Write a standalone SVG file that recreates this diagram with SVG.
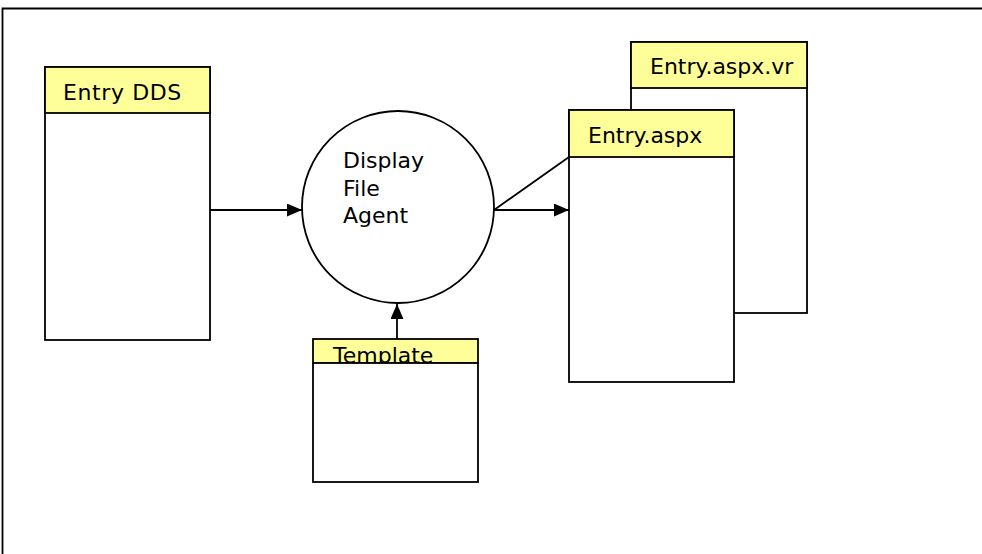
<svg xmlns="http://www.w3.org/2000/svg" width="982" height="554" viewBox="0 0 982 554">
  <style>
    .box{fill:#fff;stroke:#000;stroke-width:1.8}
    .hdr{fill:#ffff99;stroke:#000;stroke-width:1.8}
    .lbl{font-family:"DejaVu Sans",Verdana,sans-serif;font-size:22px;fill:#000}
    .ln{fill:none;stroke:#000;stroke-width:1.8}
  </style>
  <defs>
    <marker id="arr" markerUnits="userSpaceOnUse" markerWidth="15" markerHeight="13" refX="15" refY="6.5" orient="auto">
      <path d="M0,0 L15,6.5 L0,13 Z" fill="#000"/>
    </marker>
  </defs>
  <rect width="982" height="554" fill="#fff"/>
  <path class="ln" d="M2.5,554 V8.5 H982"/>

  <g id="entry-dds">
    <rect class="box" x="45" y="67" width="165" height="273"/>
    <rect class="hdr" x="45" y="67" width="165" height="46"/>
    <text class="lbl" x="63" y="100" letter-spacing="0.6">Entry DDS</text>
  </g>

  <g id="display-file-agent">
    <circle class="box" cx="398" cy="207" r="96"/>
    <text class="lbl" x="343" y="168">Display</text>
    <text class="lbl" x="343" y="196">File</text>
    <text class="lbl" x="343" y="223">Agent</text>
  </g>

  <g id="template">
    <rect class="hdr" x="313" y="339" width="165" height="24"/>
    <text class="lbl" x="333" y="363">Template</text>
    <rect class="box" x="313" y="363" width="165" height="119"/>
  </g>

  <g id="entry-aspx-vr">
    <rect class="box" x="631" y="42" width="176" height="271"/>
    <rect class="hdr" x="631" y="42" width="176" height="46"/>
    <text class="lbl" x="650" y="74">Entry.aspx.vr</text>
  </g>

  <g id="entry-aspx">
    <rect class="box" x="569" y="110" width="165" height="272"/>
    <rect class="hdr" x="569" y="110" width="165" height="47"/>
    <text class="lbl" x="588" y="143">Entry.aspx</text>
  </g>

  <g id="connectors">
    <line class="ln" x1="210" y1="210" x2="302" y2="210" marker-end="url(#arr)"/>
    <line class="ln" x1="494" y1="210" x2="569" y2="210" marker-end="url(#arr)"/>
    <line class="ln" x1="494" y1="210" x2="569" y2="157"/>
    <line class="ln" x1="397" y1="339" x2="397" y2="304" marker-end="url(#arr)"/>
  </g>
</svg>
